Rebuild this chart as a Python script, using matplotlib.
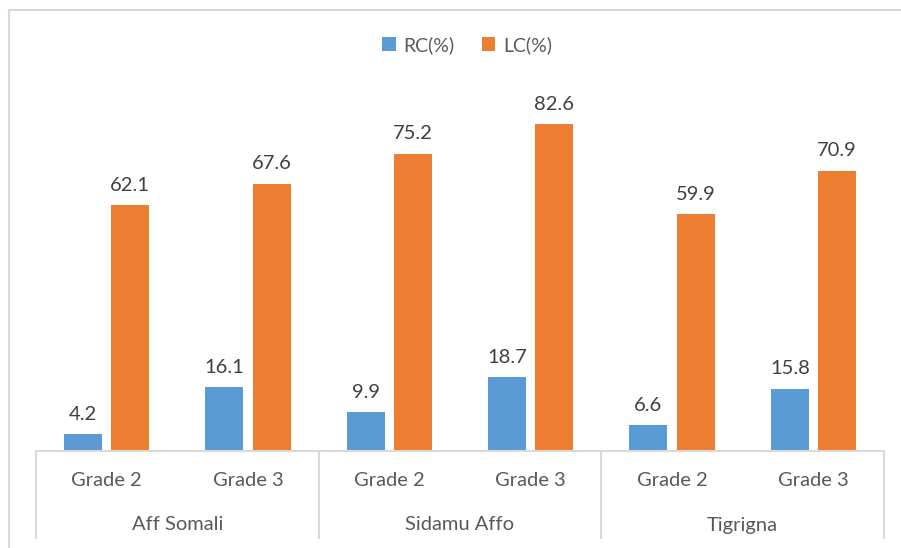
import matplotlib
matplotlib.use("Agg")
import matplotlib.pyplot as plt
import matplotlib.transforms as mtransforms
from matplotlib.lines import Line2D
import numpy as np

plt.rcParams['font.family'] = ['Lato', 'DejaVu Sans']

# ---- data ----
languages = ["Aff Somali", "Sidamu Affo", "Tigrigna"]
grades = ["Grade 2", "Grade 3"]
rc_values = [4.2, 16.1, 9.9, 18.7, 6.6, 15.8]
lc_values = [62.1, 67.6, 75.2, 82.6, 59.9, 70.9]

blue = "#5b9bd5"
orange = "#ed7d31"
grid_col = "#d9d9d9"
txt_col = "#595959"

W, H = 901, 548
fig = plt.figure(figsize=(W / 100, H / 100), dpi=100)
# plot area in pixels: x 36..884, y 95..451
ax = fig.add_axes([36 / W, (H - 451) / H, (884 - 36) / W, (451 - 95) / H])

x = np.arange(len(rc_values))
width = 0.269
off = width / 2 + 0.032
b1 = ax.bar(x - off, rc_values, width, color=blue, label="RC(%)")
b2 = ax.bar(x + off, lc_values, width, color=orange, label="LC(%)")

ax.bar_label(b1, labels=[f"{v:.1f}" for v in rc_values], padding=8,
             fontsize=14.5, color="#404040")
ax.bar_label(b2, labels=[f"{v:.1f}" for v in lc_values], padding=8,
             fontsize=14.5, color="#404040")

ax.set_xlim(-0.5, len(rc_values) - 0.5)
ax.set_ylim(0, 90)
for s in ax.spines.values():
    s.set_visible(False)
ax.set_xticks([])
ax.set_yticks([])

# multi-level category axis
trans = mtransforms.blended_transform_factory(ax.transData, ax.transAxes)
ph = 451 - 95
ax.add_line(Line2D([-0.5, len(rc_values) - 0.5], [0, 0], transform=trans,
                   color=grid_col, lw=1.5, clip_on=False))
for i in range(len(languages) + 1):
    xs = -0.5 + 2 * i
    ax.add_line(Line2D([xs, xs], [0, -87 / ph], transform=trans,
                       color=grid_col, lw=1.5, clip_on=False))
for i in x:
    ax.text(i, -29 / ph, grades[i % 2], transform=trans, ha="center",
            va="center", fontsize=14.5, color=txt_col)
for j, lang in enumerate(languages):
    ax.text(2 * j + 0.5, -74 / ph, lang, transform=trans, ha="center",
            va="center", fontsize=14.5, color=txt_col)

# legend
fig.legend(handles=[b1, b2], loc="center", bbox_to_anchor=(467 / W, 1 - 45 / H),
           ncol=2, frameon=False, fontsize=14, handlelength=0.7,
           handleheight=0.7, columnspacing=1.4, handletextpad=0.4,
           labelcolor=txt_col)

# chart border (top and left visible)
fig.add_artist(Line2D([8.5 / W, 1], [1 - 9.5 / H, 1 - 9.5 / H],
                      transform=fig.transFigure, color=grid_col, lw=1.5))
fig.add_artist(Line2D([8.5 / W, 8.5 / W], [0, 1 - 9.5 / H],
                      transform=fig.transFigure, color=grid_col, lw=1.5))

fig.savefig("out.png", dpi=100, facecolor="white")
